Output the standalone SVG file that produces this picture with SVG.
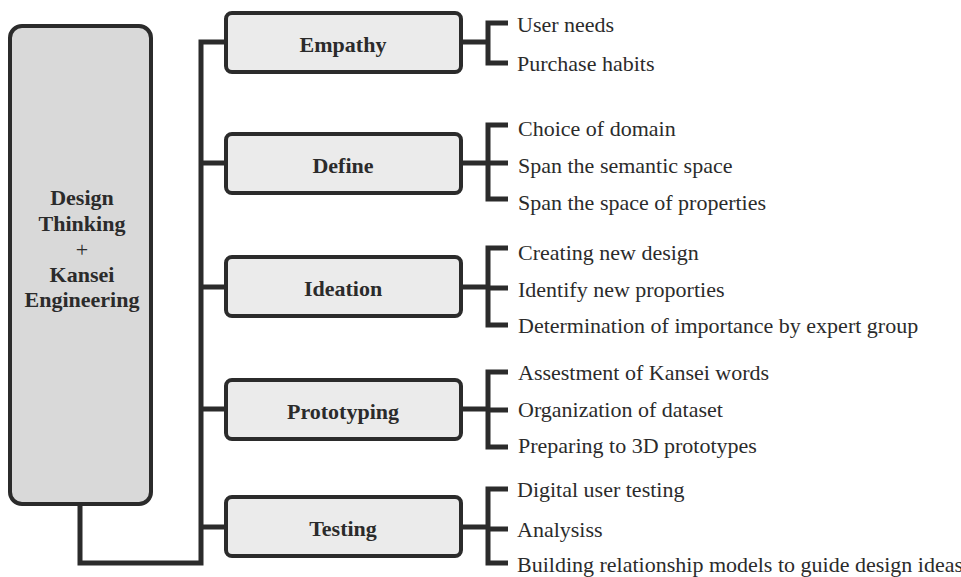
<svg xmlns="http://www.w3.org/2000/svg" width="961" height="577" viewBox="0 0 961 577">
<style>
.bg{fill:#ffffff}
.main{fill:#d9d9d9;stroke:#2b2b2b;stroke-width:4}
.box{fill:#ebebeb;stroke:#2b2b2b;stroke-width:4}
.lbl{font-weight:bold;font-size:22px;fill:#2b2b2b;text-anchor:middle}
.item{font-size:22px;fill:#2b2b2b}
.ln{fill:none;stroke:#2b2b2b;stroke-width:5;stroke-linejoin:miter;stroke-linecap:butt}
</style>
<rect class="bg" x="0" y="0" width="961" height="577"/>
<g id="connectors">
<path class="ln" d="M226 42 H201 V563 H80 V504"/>
<path class="ln" d="M201 163 H226 M201 287 H226 M201 409 H226 M201 527 H226"/>
<path class="ln" d="M461 42 H488 M508 23 H488 V63 H508"/>
<path class="ln" d="M461 163 H488 M508 125 H488 V199 H508 M488 163 H508"/>
<path class="ln" d="M461 287 H488 M508 248 H488 V325 H508 M488 288 H508"/>
<path class="ln" d="M461 409 H488 M508 372 H488 V447 H508 M488 410 H508"/>
<path class="ln" d="M461 527 H488 M508 489 H488 V563 H508 M488 529 H508"/>
</g>
<g font-family="'Liberation Serif', 'Times New Roman', Times, 'DejaVu Serif', serif">
<g id="root">
<rect class="main" x="10" y="26" width="141" height="478" rx="12"/>
<text class="lbl" font-size="23" x="82" y="205">Design</text>
<text class="lbl" font-size="23" x="82" y="231">Thinking</text>
<text class="lbl" x="82" y="257" style="font-weight:normal">+</text>
<text class="lbl" font-size="23" x="82" y="282">Kansei</text>
<text class="lbl" font-size="23" x="82" y="307">Engineering</text>
</g>
<g id="empathy">
<rect class="box" x="226" y="13" width="235" height="59" rx="6"/>
<text class="lbl" x="343" y="52">Empathy</text>
</g>
<g id="define">
<rect class="box" x="226" y="134" width="235" height="59" rx="6"/>
<text class="lbl" x="343" y="173">Define</text>
</g>
<g id="ideation">
<rect class="box" x="226" y="257" width="235" height="59" rx="6"/>
<text class="lbl" x="343" y="296">Ideation</text>
</g>
<g id="prototyping">
<rect class="box" x="226" y="380" width="235" height="59" rx="6"/>
<text class="lbl" x="343" y="419">Prototyping</text>
</g>
<g id="testing">
<rect class="box" x="226" y="497" width="235" height="59" rx="6"/>
<text class="lbl" x="343" y="536">Testing</text>
</g>
<g id="items">
<text class="item" x="517" y="32">User needs</text>
<text class="item" x="517" y="71">Purchase habits</text>
<text class="item" x="518" y="136">Choice of domain</text>
<text class="item" x="518" y="173">Span the semantic space</text>
<text class="item" x="518" y="210">Span the space of properties</text>
<text class="item" x="518" y="260">Creating new design</text>
<text class="item" x="518" y="297">Identify new proporties</text>
<text class="item" x="518" y="333">Determination of importance by expert group</text>
<text class="item" x="518" y="380">Assestment of Kansei words</text>
<text class="item" x="518" y="417">Organization of dataset</text>
<text class="item" x="518" y="453">Preparing to 3D prototypes</text>
<text class="item" x="517" y="497">Digital user testing</text>
<text class="item" x="517" y="537">Analysiss</text>
<text class="item" x="517" y="572">Building relationship models to guide design ideas</text>
</g>
</g>
</svg>
